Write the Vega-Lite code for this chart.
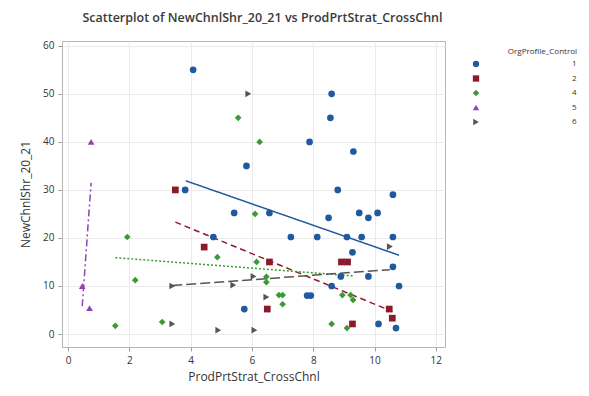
{
  "$schema": "https://vega.github.io/schema/vega-lite/v6.json",
  "autosize": "none",
  "width": 383,
  "height": 306,
  "padding": {"left": 62, "top": 41, "right": 144, "bottom": 49},
  "background": "white",
  "title": {
    "text": "Scatterplot of NewChnlShr_20_21 vs ProdPrtStrat_CrossChnl",
    "font": "Open Sans",
    "fontSize": 12.5,
    "fontWeight": 600,
    "color": "#3a3a3a",
    "anchor": "middle",
    "frame": "group",
    "dx": 9,
    "offset": 16
  },
  "datasets": {
    "pts": [
      {"x": 3.82, "y": 30, "g": "1"}, {"x": 4.08, "y": 55, "g": "1"}, {"x": 4.74, "y": 20.2, "g": "1"},
      {"x": 5.42, "y": 25.2, "g": "1"}, {"x": 5.75, "y": 5.2, "g": "1"}, {"x": 5.82, "y": 35, "g": "1"},
      {"x": 6.57, "y": 25.2, "g": "1"}, {"x": 7.27, "y": 20.2, "g": "1"}, {"x": 7.8, "y": 8, "g": "1"},
      {"x": 7.92, "y": 8, "g": "1"}, {"x": 7.88, "y": 40, "g": "1"}, {"x": 8.13, "y": 20.2, "g": "1"},
      {"x": 8.5, "y": 24.2, "g": "1"}, {"x": 8.56, "y": 45, "g": "1"}, {"x": 8.6, "y": 50, "g": "1"},
      {"x": 8.6, "y": 10, "g": "1"}, {"x": 8.8, "y": 30, "g": "1"}, {"x": 8.9, "y": 12, "g": "1"},
      {"x": 9.1, "y": 20.2, "g": "1"}, {"x": 9.28, "y": 17, "g": "1"}, {"x": 9.31, "y": 38, "g": "1"},
      {"x": 9.5, "y": 25.2, "g": "1"}, {"x": 9.58, "y": 20.2, "g": "1"}, {"x": 9.8, "y": 24.2, "g": "1"},
      {"x": 9.8, "y": 12, "g": "1"}, {"x": 10.1, "y": 25.2, "g": "1"}, {"x": 10.13, "y": 2.1, "g": "1"},
      {"x": 10.6, "y": 29, "g": "1"}, {"x": 10.6, "y": 20.2, "g": "1"}, {"x": 10.6, "y": 14, "g": "1"},
      {"x": 10.7, "y": 1.25, "g": "1"}, {"x": 10.8, "y": 10, "g": "1"},
      {"x": 3.5, "y": 30, "g": "2"}, {"x": 4.44, "y": 18.1, "g": "2"}, {"x": 6.57, "y": 15, "g": "2"},
      {"x": 6.5, "y": 5.2, "g": "2"}, {"x": 8.92, "y": 15, "g": "2"}, {"x": 9.12, "y": 15, "g": "2"},
      {"x": 9.28, "y": 2.1, "g": "2"}, {"x": 10.48, "y": 5.2, "g": "2"}, {"x": 10.58, "y": 3.3, "g": "2"},
      {"x": 1.54, "y": 1.7, "g": "4"}, {"x": 1.93, "y": 20.2, "g": "4"}, {"x": 2.19, "y": 11.2, "g": "4"},
      {"x": 3.07, "y": 2.5, "g": "4"}, {"x": 4.87, "y": 16, "g": "4"}, {"x": 5.55, "y": 45, "g": "4"},
      {"x": 6.1, "y": 25, "g": "4"}, {"x": 6.15, "y": 15, "g": "4"}, {"x": 6.25, "y": 40, "g": "4"},
      {"x": 6.47, "y": 11.9, "g": "4"}, {"x": 6.47, "y": 10.8, "g": "4"}, {"x": 6.88, "y": 8.1, "g": "4"},
      {"x": 7.0, "y": 8.1, "g": "4"}, {"x": 7.0, "y": 6.2, "g": "4"}, {"x": 8.6, "y": 2.1, "g": "4"},
      {"x": 8.95, "y": 8.1, "g": "4"}, {"x": 9.22, "y": 8.1, "g": "4"}, {"x": 9.3, "y": 7.1, "g": "4"},
      {"x": 9.1, "y": 1.25, "g": "4"},
      {"x": 0.46, "y": 10, "g": "5"}, {"x": 0.7, "y": 5.4, "g": "5"}, {"x": 0.75, "y": 40, "g": "5"},
      {"x": 3.4, "y": 10, "g": "6"}, {"x": 3.4, "y": 2.1, "g": "6"}, {"x": 4.9, "y": 0.8, "g": "6"},
      {"x": 5.39, "y": 10.2, "g": "6"}, {"x": 5.88, "y": 50, "g": "6"}, {"x": 6.05, "y": 12, "g": "6"},
      {"x": 6.08, "y": 0.8, "g": "6"}, {"x": 6.47, "y": 7.7, "g": "6"}, {"x": 10.5, "y": 18.2, "g": "6"}
    ],
    "fit": [
      {"x": 3.84, "y": 31.9, "g": "1"}, {"x": 10.8, "y": 16.4, "g": "1"},
      {"x": 3.5, "y": 23.3, "g": "2"}, {"x": 10.58, "y": 4.7, "g": "2"},
      {"x": 1.54, "y": 15.9, "g": "4"}, {"x": 9.3, "y": 12.1, "g": "4"},
      {"x": 0.46, "y": 5.8, "g": "5"}, {"x": 0.75, "y": 31.5, "g": "5"},
      {"x": 3.4, "y": 10.1, "g": "6"}, {"x": 10.5, "y": 13.4, "g": "6"}
    ]
  },
  "config": {
    "font": "Open Sans",
    "view": {"stroke": "#b5b5b5", "strokeWidth": 1},
    "axis": {
      "labelFont": "Open Sans",
      "titleFont": "Open Sans",
      "labelFontSize": 10,
      "titleFontSize": 12,
      "titleFontWeight": "normal",
      "labelColor": "#333333",
      "titleColor": "#333333",
      "gridColor": "#ebebeb",
      "tickColor": "#9a9a9a",
      "domain": false
    },
    "legend": {
      "titleFont": "Open Sans",
      "labelFont": "Open Sans",
      "titleFontSize": 8,
      "titleFontWeight": "normal",
      "titleColor": "#333333",
      "labelFontSize": 8,
      "labelColor": "#333333"
    }
  },
  "layer": [
    {
      "data": {"name": "fit"},
      "mark": {"type": "line", "strokeWidth": 1.5},
      "encoding": {
        "x": {"field": "x", "type": "quantitative"},
        "y": {"field": "y", "type": "quantitative"},
        "color": {"field": "g", "type": "nominal", "title": "OrgProfile_Control"},
        "strokeDash": {"field": "g", "type": "nominal", "legend": null,
          "scale": {"domain": ["1", "2", "4", "5", "6"], "range": [[1, 0], [6, 4], [2, 2], [7, 3, 2, 3], [10, 4]]}},
        "detail": {"field": "g"}
      }
    },
    {
      "data": {"name": "pts"},
      "mark": {"type": "point", "filled": true, "opacity": 1, "size": 45},
      "encoding": {
        "x": {"field": "x", "type": "quantitative", "title": "ProdPrtStrat_CrossChnl",
          "scale": {"domain": [-0.2, 12.3], "nice": false, "zero": false},
          "axis": {"values": [0, 2, 4, 6, 8, 10, 12], "tickSize": 4, "labelPadding": 4, "titlePadding": 6}},
        "y": {"field": "y", "type": "quantitative", "title": "NewChnlShr_20_21",
          "scale": {"domain": [-2.7, 61], "nice": false, "zero": false},
          "axis": {"values": [0, 10, 20, 30, 40, 50, 60], "tickSize": 4, "labelPadding": 4, "titlePadding": 10}},
        "color": {"field": "g", "type": "nominal", "title": "OrgProfile_Control",
          "scale": {"domain": ["1", "2", "4", "5", "6"], "range": ["#1f5a9e", "#8c1a2b", "#3a9b35", "#8e44b0", "#555555"]},
          "legend": {"orient": "none", "legendX": 410, "legendY": 7, "titleAnchor": "end", "labelOffset": 92, "symbolSize": 40, "symbolStrokeWidth": 0, "rowPadding": 6.5, "padding": 0, "titlePadding": 4}},
        "shape": {"field": "g", "type": "nominal", "title": "OrgProfile_Control",
          "scale": {"domain": ["1", "2", "4", "5", "6"], "range": ["circle", "square", "diamond", "triangle-up", "triangle-right"]}}
      }
    }
  ],
  "resolve": {"scale": {"color": "shared"}},
  "encoding": {}
}
